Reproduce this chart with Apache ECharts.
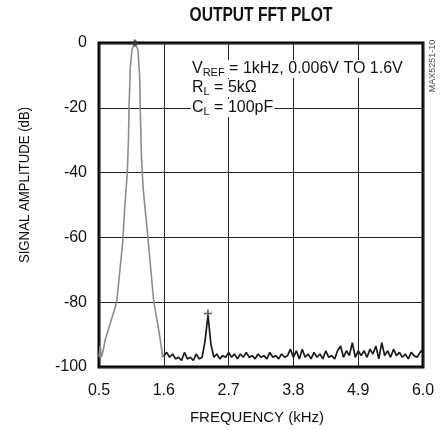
<!DOCTYPE html>
<html>
<head>
<meta charset="utf-8">
<script src="https://cdn.jsdelivr.net/npm/echarts@6/dist/echarts.min.js"></script>
<style>
    html, body { margin: 0; padding: 0; background: #fff; }
    #chart { width: 446px; height: 430px; }
</style>
</head>
<body>
<div id="chart"></div>
<script>
// axis ticks (kHz / dB)
let xTicks = [0.5, 1.6, 2.7, 3.8, 4.9, 6.0];
let yTicks = [0, -20, -40, -60, -80, -100];

// fundamental peak
let peakFreq = [0.50, 0.52, 0.54, 0.57, 0.60, 0.65, 0.70, 0.75, 0.80, 0.85, 0.90, 0.94, 0.98, 1.00, 1.01, 1.03, 1.06, 1.11,
    1.16, 1.19, 1.20, 1.22, 1.25, 1.33, 1.38, 1.43, 1.50, 1.56, 1.58, 1.60];
let peakDb = [-97, -93.5, -97, -95, -92, -89, -86, -83, -80, -71, -62, -50, -40, -30, -20, -8, -2, 0,
    -2, -10, -20, -35, -45, -60, -70, -80, -87, -94, -97, -96.5];

// noise floor from 1.6 kHz, every 0.05 kHz
let floorStart = 1.6;
let floorStep = 0.05;
let floorDb = [
    -96.5, -95.5, -97, -96, -97.5, -97, -98, -95.5, -97.5, -97,
    -98, -96, -97.5, -97, -92, -84, -93, -97, -96, -97.5,
    -96.5, -97, -95.5, -97, -96, -97.5, -96, -97, -95.5, -97,
    -96.5, -97.5, -96, -97, -96.5, -97.5, -95.5, -97, -96.5, -97.5,
    -96, -97, -96.5, -94.5, -97, -95, -97.5, -94.5, -97, -96,
    -97.5, -95.5, -97, -96, -97.5, -95, -97, -96.5, -97.5, -95,
    -93.5, -97, -95, -96.5, -92.5, -97, -95, -96.5, -95, -97,
    -94.5, -96, -93.5, -97.5, -92.5, -96.5, -95, -97, -94.5, -96.5,
    -95.5, -97, -96, -97.5, -95.5, -96.5, -97, -95.5, -94.5
];

// marked points: fundamental top and 2nd harmonic
let fundMark = [1.11, 0];
let harmMark = [2.35, -83.5];

let x0 = xTicks[0];
let shift = function (f) {
    return +(f - x0).toFixed(4);
};

let peakData = peakFreq.map(function (f, i) {
    return [shift(f), peakDb[i]];
});
let floorData = floorDb.map(function (v, i) {
    return [shift(floorStart + i * floorStep), v];
});

let chart = echarts.init(document.getElementById('chart'));
let font = 'Liberation Sans';
let richStyle = {
    m: { fontFamily: font, fontSize: 16, lineHeight: 18, fill: '#111' },
    s: { fontFamily: font, fontSize: 11, lineHeight: 8, verticalAlign: 'bottom', fill: '#111' }
};
let noteLine = function (y, text) {
    return {
        type: 'text',
        x: 191, y: y,
        z: 100,
        style: {
            text: text,
            backgroundColor: '#fff',
            padding: [0, 1, 0, 1],
            verticalAlign: 'middle',
            rich: richStyle
        }
    };
};

let option = {
    animation: false,
    backgroundColor: '#fff',
    grid: {
        left: 99,
        right: 23,
        top: 43,
        bottom: 63,
        show: true,
        borderColor: '#000',
        borderWidth: 3,
        backgroundColor: 'transparent'
    },
    xAxis: {
        type: 'value',
        min: 0,
        max: xTicks[xTicks.length - 1] - x0,
        interval: xTicks[1] - xTicks[0],
        axisLine: { show: false },
        axisTick: { show: false },
        splitLine: { lineStyle: { color: '#222', width: 1 } },
        axisLabel: {
            margin: 16,
            showMaxLabel: true,
            fontFamily: font,
            fontSize: 16,
            color: '#111',
            formatter: function (v) {
                return (v + x0).toFixed(1);
            }
        }
    },
    yAxis: {
        type: 'value',
        min: -100,
        max: 0,
        interval: 20,
        axisLine: { show: false },
        axisTick: { show: false },
        splitLine: { lineStyle: { color: '#222', width: 1 } },
        axisLabel: {
            margin: 12,
            fontFamily: font,
            fontSize: 16,
            color: '#111'
        }
    },
    graphic: [
        {
            type: 'text',
            x: 261, y: 16,
            scaleX: 0.8,
            style: {
                text: 'OUTPUT FFT PLOT',
                fontFamily: font,
                fontWeight: 'bold',
                fontSize: 19.5,
                fill: '#111',
                align: 'center',
                verticalAlign: 'middle'
            }
        },
        {
            type: 'text',
            x: 25, y: 185,
            rotation: Math.PI / 2,
            scaleX: 0.88,
            style: {
                text: 'SIGNAL AMPLITUDE (dB)',
                fontFamily: font,
                fontSize: 15,
                fill: '#111',
                align: 'center',
                verticalAlign: 'middle'
            }
        },
        {
            type: 'text',
            x: 257, y: 418,
            style: {
                text: 'FREQUENCY (kHz)',
                fontFamily: font,
                fontSize: 15,
                fill: '#111',
                align: 'center',
                verticalAlign: 'middle'
            }
        },
        {
            type: 'text',
            x: 433, y: 66,
            rotation: Math.PI / 2,
            style: {
                text: 'MAX5251-10',
                fontFamily: font,
                fontSize: 9,
                fill: '#444',
                align: 'center',
                verticalAlign: 'middle'
            }
        },
        noteLine(69, '{m|V}{s|REF}{m| = 1kHz, 0.006V TO 1.6V}'),
        noteLine(88, '{m|R}{s|L}{m| = 5kΩ}'),
        noteLine(108, '{m|C}{s|L}{m| = 100pF}')
    ],
    series: [
        {
            name: 'fundamental',
            type: 'line',
            data: peakData,
            showSymbol: false,
            lineStyle: { color: '#8c8c8c', width: 1.6 },
            z: 3
        },
        {
            name: 'floor',
            type: 'line',
            data: floorData,
            showSymbol: false,
            lineStyle: { color: '#1a1a1a', width: 1.7 },
            z: 3
        },
        {
            name: 'marks',
            type: 'scatter',
            clip: false,
            z: 4,
            data: [
                { value: [shift(fundMark[0]), fundMark[1]], symbol: 'diamond', symbolSize: [7, 8] },
                {
                    value: [shift(harmMark[0]), harmMark[1]],
                    symbol: 'path://M4,0h2v4h4v2h-4v4h-2v-4h-4v-2h4z',
                    symbolSize: 8
                }
            ],
            itemStyle: { color: '#333' }
        }
    ]
};
chart.setOption(option, true);
</script>
</body>
</html>
